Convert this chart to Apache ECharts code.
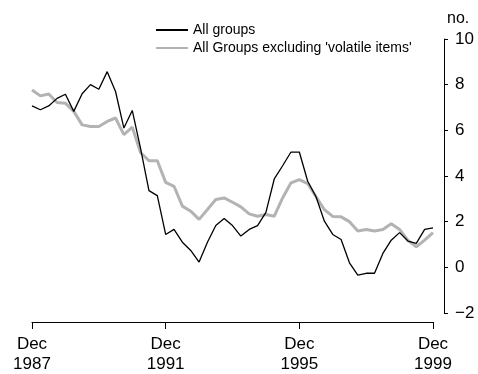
<!DOCTYPE html>
<html>
<head>
<meta charset="utf-8">
<script src="https://cdn.jsdelivr.net/npm/echarts@6/dist/echarts.min.js"></script>
<style>html,body{margin:0;padding:0;background:#fff}#c{width:478px;height:374px}</style>
</head>
<body>
<div id="c"></div>
<script>
// Quarterly, Dec 1987 .. Dec 1999 (49 quarters)
const xTickLabels = ['Dec\n1987', 'Dec\n1991', 'Dec\n1995', 'Dec\n1999'];
const seriesNames = ['All groups', "All Groups excluding 'volatile items'"];
const allGroups = [7.07, 6.9, 7.07, 7.4, 7.58, 6.83, 7.6, 8.0, 7.8, 8.57, 7.7, 6.1, 6.87, 5.2, 3.36, 3.14, 1.44, 1.66, 1.1, 0.74, 0.23, 1.1, 1.83, 2.14, 1.83, 1.37, 1.66, 1.83, 2.41, 3.87, 4.45, 5.05, 5.05, 3.77, 3.09, 2.02, 1.44, 1.22, 0.2, -0.34, -0.26, -0.26, 0.61, 1.19, 1.52, 1.15, 1.05, 1.66, 1.73];
const exVolatile = [7.77, 7.51, 7.59, 7.22, 7.19, 6.83, 6.24, 6.17, 6.17, 6.39, 6.54, 5.81, 6.14, 5.02, 4.67, 4.67, 3.72, 3.55, 2.68, 2.46, 2.1, 2.53, 2.97, 3.04, 2.85, 2.65, 2.34, 2.24, 2.31, 2.24, 3.04, 3.7, 3.84, 3.67, 3.09, 2.53, 2.23, 2.21, 2.0, 1.59, 1.66, 1.59, 1.66, 1.91, 1.66, 1.18, 0.9, 1.19, 1.52];

const FONT = '"Liberation Sans", Arial, sans-serif';
const chart = echarts.init(document.getElementById('c'), null, {renderer: 'canvas'});
const toPairs = arr => arr.map((v, i) => [i, v]);
chart.setOption({
  animation: false,
  textStyle: {fontFamily: FONT},
  grid: {left: 32, right: 45, top: 39, bottom: 60, containLabel: false},
  legend: {
    data: [seriesNames[0], seriesNames[1]],
    orient: 'vertical', left: 150, top: 18,
    itemWidth: 32, itemHeight: 14, itemGap: 4,
    itemStyle: {opacity: 0, borderWidth: 0},
    textStyle: {fontFamily: FONT, fontSize: 14, color: '#000'}
  },
  graphic: [{type: 'text', left: 447, top: 11, style: {text: 'no.', font: '16px ' + FONT, fill: '#000'}}],
  xAxis: {
    type: 'value', min: 0, max: 48, interval: 16, offset: 9,
    axisLine: {show: true, onZero: false, lineStyle: {color: '#000', width: 1}},
    axisTick: {show: true, inside: false, length: 7, lineStyle: {color: '#000'}},
    splitLine: {show: false},
    axisLabel: {
      margin: 12, fontSize: 17, lineHeight: 20, color: '#000', fontFamily: FONT,
      formatter: v => xTickLabels[Math.round(v / 16)] || ''
    }
  },
  yAxis: {
    type: 'value', position: 'right', min: -2, max: 10, interval: 2, offset: 11,
    axisLine: {show: true, onZero: false, lineStyle: {color: '#000', width: 1}},
    axisTick: {show: true, inside: false, length: 4, lineStyle: {color: '#000'}},
    splitLine: {show: false},
    axisLabel: {margin: 11, fontSize: 17, color: '#000', fontFamily: FONT,
      formatter: v => (v < 0 ? '\u2212' + Math.abs(v) : String(v))}
  },
  series: [
    {name: seriesNames[1], type: 'line', data: toPairs(exVolatile), symbol: 'none',
     lineStyle: {color: '#b3b3b3', width: 3}, itemStyle: {color: '#b3b3b3'}, z: 2},
    {name: seriesNames[0], type: 'line', data: toPairs(allGroups), symbol: 'none',
     lineStyle: {color: '#000', width: 1.3}, itemStyle: {color: '#000'}, z: 3}
  ]
});
</script>
</body>
</html>
